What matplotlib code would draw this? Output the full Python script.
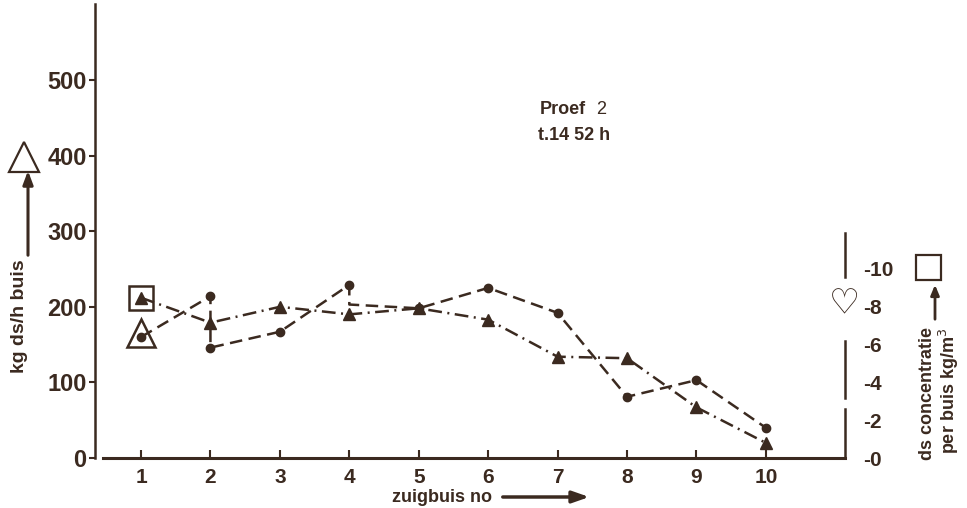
import matplotlib.pyplot as plt
from matplotlib import font_manager

# data
buis = [1, 2, 3, 4, 5, 6, 7, 8, 9, 10]
kg_ds = [212, 179, 200, 190, 198, 183, 134, 132, 67, 20]          # triangles, left axis
conc_x = [1, 2, 2, 3, 4, 4, 5, 6, 7, 8, 9, 10]
conc_kg = [160, 214, 146, 167, 229, 203, 198, 225, 192, 81, 103, 40]  # dots, drawn in left units
conc_marks = [0, 1, 2, 3, 4, 6, 7, 8, 9, 10, 11]
left_ticks = [0, 100, 200, 300, 400, 500]
right_ticks = [0, 2, 4, 6, 8, 10]

ink = '#3b2a20'
W, H = 967, 508

names = {f.name for f in font_manager.fontManager.ttflist}
narrow = ['Liberation Sans Narrow', 'Liberation Sans'] if 'Liberation Sans Narrow' in names else ['Liberation Sans']
plt.rcParams['font.family'] = ['Liberation Sans', 'DejaVu Sans']


def fx(x):
    return x / W


def fy(y):
    return 1 - y / H


fig = plt.figure(figsize=(W / 100, H / 100), dpi=100)
ax = fig.add_axes([fx(95), fy(458), (845 - 95) / W, 453.6 / H])
ax.set_xlim(0.337, 11.14)
ax.set_ylim(0, 600)

ax.plot(buis, kg_ds, color=ink, lw=1.8, dashes=(5.5, 2.2, 0.8, 2.2),
        marker='^', ms=9, mfc=ink, mec=ink)
ax.plot(conc_x, conc_kg, color=ink, lw=1.8, dashes=(5, 2.6),
        marker='o', ms=6, mfc=ink, mec=ink, markevery=conc_marks)

# open symbols around the first points
ax.plot(buis[0], kg_ds[0], marker='s', ms=17, mfc='none', mec=ink, mew=1.8)
ax.plot(conc_x[0], conc_kg[0] + 6, marker='^', ms=20, mfc='none', mec=ink, mew=1.8)

for s in ['top', 'right']:
    ax.spines[s].set_visible(False)
ax.spines['left'].set_color(ink)
ax.spines['left'].set_linewidth(1.8)
ax.spines['bottom'].set_color(ink)
ax.spines['bottom'].set_linewidth(2.2)
ax.spines['bottom'].set_bounds(0.45, 11.14)

ax.set_xticks(buis)
ax.set_xticklabels([str(b) for b in buis])
ax.tick_params(axis='x', direction='in', length=6, width=1.5, color=ink,
               labelsize=15, labelcolor=ink, pad=7)
ax.set_yticks(left_ticks)
ax.tick_params(axis='y', direction='out', length=4, width=1.5, color=ink,
               labelsize=17, labelcolor=ink, pad=2)
for lab in ax.get_xticklabels() + ax.get_yticklabels():
    lab.set_fontweight('bold')

# right axis
ax2 = ax.twinx()
ax2.set_ylim(0, 24)
for s in ['top', 'right', 'left', 'bottom']:
    ax2.spines[s].set_visible(False)
ax2.set_yticks(right_ticks)
ax2.set_yticklabels(['-%d' % v for v in right_ticks])
ax2.tick_params(axis='y', length=0, labelsize=15, labelcolor=ink, pad=13)
for lab in ax2.get_yticklabels():
    lab.set_fontweight('bold')
for lo, hi in [(0, 2.6), (3.2, 6.2), (9.6, 11.9)]:
    ax2.plot([1, 1], [lo, hi], color=ink, lw=1.8, transform=ax2.get_yaxis_transform(),
             clip_on=False)
fig.text(fx(844), fy(304), '\u2661', fontsize=25, color=ink, ha='center', va='center',
         family=['DejaVu Sans'])

# axis labels with arrows
fig.text(fx(20), fy(316), 'kg ds/h buis', rotation=90, ha='center', va='center',
         fontsize=14, fontweight='bold', color=ink, family=narrow)
fig.add_artist(plt.Line2D([fx(24)], [fy(157)], marker='^', ms=22, mfc='none', mec=ink, mew=1.6))
ax.annotate('', xy=(fx(28), fy(168)), xytext=(fx(28), fy(258)),
            xycoords='figure fraction', textcoords='figure fraction',
            arrowprops=dict(arrowstyle='-|>,head_length=0.8,head_width=0.3', color=ink, lw=2.2))

fig.text(fx(928), fy(393), 'ds concentratie', rotation=90, ha='center', va='center',
         fontsize=13, fontweight='bold', color=ink, family=narrow)
fig.text(fx(949), fy(391), 'per buis kg/m$^3$', rotation=90, ha='center', va='center',
         fontsize=13, fontweight='bold', color=ink, family=narrow)
fig.add_artist(plt.Line2D([fx(928)], [fy(267)], marker='s', ms=18, mfc='none', mec=ink, mew=1.6))
ax.annotate('', xy=(fx(935), fy(282)), xytext=(fx(935), fy(322)),
            xycoords='figure fraction', textcoords='figure fraction',
            arrowprops=dict(arrowstyle='-|>,head_length=0.6,head_width=0.25', color=ink, lw=2))

fig.text(fx(442), fy(497), 'zuigbuis no', ha='center', va='center',
         fontsize=13, fontweight='bold', color=ink, family=narrow)
ax.annotate('', xy=(fx(592), fy(497)), xytext=(fx(500), fy(497)),
            xycoords='figure fraction', textcoords='figure fraction',
            arrowprops=dict(arrowstyle='-|>,head_length=1.0,head_width=0.35', color=ink, lw=2.5))

fig.text(fx(540), fy(109), 'Proef', ha='left', va='center', fontsize=13,
         fontweight='bold', color=ink, family=narrow)
fig.text(fx(596), fy(109), '2', ha='left', va='center', fontsize=13, color=ink, family=narrow)
fig.text(fx(538), fy(136), 't.14 52 h', ha='left', va='center', fontsize=13,
         fontweight='bold', color=ink, family=narrow)

fig.savefig('out.png', dpi=100)
